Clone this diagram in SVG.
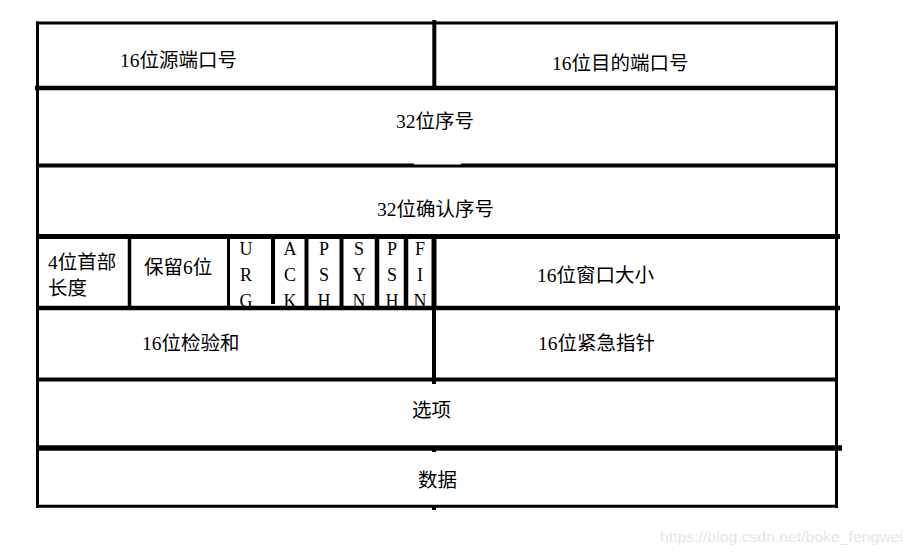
<svg xmlns="http://www.w3.org/2000/svg" width="913" height="554" viewBox="0 0 913 554">
  <style>
    .t { font-family: "Liberation Serif", "Noto Sans CJK SC", serif; font-size: 19.5px; fill: #000; }
    .f { font-family: "Liberation Serif", "Noto Sans CJK SC", serif; font-size: 18px; fill: #000; text-anchor: middle; }
    .l { stroke: #000; fill: none; }
    .wm { font-family: "Liberation Sans", Arial, sans-serif; font-size: 15.5px; fill: #e6e6e6; }
  </style>
  <rect width="913" height="554" fill="#fff"/>

  <g id="src-port"><text class="t" x="120" y="67">16位源端口号</text></g>
  <g id="dst-port"><text class="t" x="552" y="70">16位目的端口号</text></g>
  <g id="seq"><text class="t" x="396" y="128">32位序号</text></g>
  <g id="ack-num"><text class="t" x="377" y="216">32位确认序号</text></g>
  <g id="hdr-len">
    <text class="t" x="48" y="269">4位首部</text>
    <text class="t" x="48" y="295">长度</text>
  </g>
  <g id="reserved"><text class="t" x="144" y="274">保留6位</text></g>
  <g id="flag-urg">
    <text class="f" x="246" y="255">U</text><text class="f" x="246" y="281">R</text><text class="f" x="246" y="307">G</text>
  </g>
  <g id="flag-ack">
    <text class="f" x="290" y="255">A</text><text class="f" x="290" y="281">C</text><text class="f" x="290" y="307">K</text>
  </g>
  <g id="flag-psh">
    <text class="f" x="324" y="255">P</text><text class="f" x="324" y="281">S</text><text class="f" x="324" y="307">H</text>
  </g>
  <g id="flag-syn">
    <text class="f" x="359" y="255">S</text><text class="f" x="359" y="281">Y</text><text class="f" x="359" y="307">N</text>
  </g>
  <g id="flag-psh2">
    <text class="f" x="392" y="255">P</text><text class="f" x="392" y="281">S</text><text class="f" x="392" y="307">H</text>
  </g>
  <g id="flag-fin">
    <text class="f" x="420" y="255">F</text><text class="f" x="420" y="281">I</text><text class="f" x="420" y="307">N</text>
  </g>
  <g id="window"><text class="t" x="537" y="282">16位窗口大小</text></g>
  <g id="checksum"><text class="t" x="142" y="350">16位检验和</text></g>
  <g id="urgent"><text class="t" x="538" y="350">16位紧急指针</text></g>
  <g id="options"><text class="t" x="412" y="417">选项</text></g>
  <g id="data"><text class="t" x="418" y="487">数据</text></g>

  <g id="connectors">
    <line class="l" x1="36" y1="23" x2="838" y2="23" stroke-width="3"/>
    <line class="l" x1="35" y1="88" x2="836.5" y2="88" stroke-width="4.5"/>
    <line class="l" x1="36" y1="165.5" x2="838" y2="165.5" stroke-width="4"/>
    <line class="l" x1="36" y1="236.5" x2="840" y2="236.5" stroke-width="5"/>
    <line class="l" x1="36" y1="308" x2="840" y2="308" stroke-width="4.5"/>
    <line class="l" x1="36" y1="379.5" x2="838" y2="379.5" stroke-width="4"/>
    <line class="l" x1="36" y1="448" x2="842" y2="448" stroke-width="5.5"/>
    <line class="l" x1="36" y1="506.3" x2="838" y2="506.3" stroke-width="3"/>
    <line class="l" x1="37.5" y1="21.5" x2="37.5" y2="508" stroke-width="3"/>
    <line class="l" x1="836.5" y1="21.5" x2="836.5" y2="508" stroke-width="3"/>
    <line class="l" x1="434.3" y1="20" x2="434.3" y2="90" stroke-width="4"/>
    <line class="l" x1="434" y1="306" x2="434" y2="384" stroke-width="4"/>
    <line class="l" x1="434" y1="446" x2="434" y2="452" stroke-width="4"/>
    <line class="l" x1="434" y1="505" x2="434" y2="510" stroke-width="4"/>
    <line class="l" x1="129.5" y1="236" x2="129.5" y2="308" stroke-width="3.5"/>
    <line class="l" x1="228.5" y1="236" x2="228.5" y2="308" stroke-width="3"/>
    <line class="l" x1="273" y1="236" x2="273" y2="304" stroke-width="4"/>
    <line class="l" x1="306.5" y1="236" x2="306.5" y2="308" stroke-width="4"/>
    <line class="l" x1="341.5" y1="236" x2="341.5" y2="308" stroke-width="4"/>
    <line class="l" x1="377" y1="236" x2="377" y2="308" stroke-width="4.5"/>
    <line class="l" x1="406" y1="236" x2="406" y2="308" stroke-width="4.5"/>
    <line class="l" x1="434" y1="236" x2="434" y2="308" stroke-width="5"/>
    <rect x="414" y="163" width="47" height="1.5" fill="#fff"/>
  </g>

  <text class="wm" x="660" y="542" textLength="243" lengthAdjust="spacingAndGlyphs">https://blog.csdn.net/boke_fengwei</text>
</svg>
